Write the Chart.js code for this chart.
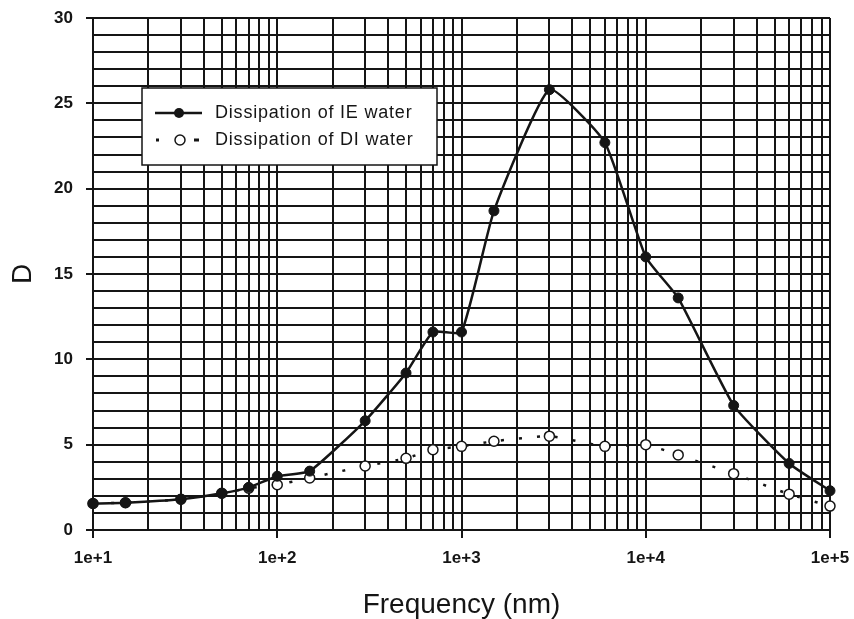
<!DOCTYPE html>
<html>
<head>
<meta charset="utf-8">
<script src="https://cdn.jsdelivr.net/npm/chart.js@4"></script>
<style>
  html, body { margin: 0; padding: 0; background: #fff; }
  #chart-container { width: 854px; height: 619px; position: relative; }
</style>
</head>
<body>
<div id="chart-container"><canvas id="demoChart"></canvas></div>
<script>
var frequencies = [10, 15, 30, 50, 70, 100, 150, 300, 500, 700, 1000, 1500, 3000, 6000, 10000, 15000, 30000, 60000, 100000];
var ieWater = [1.55, 1.6, 1.8, 2.15, 2.5, 3.15, 3.45, 6.4, 9.2, 11.6, 11.6, 18.7, 25.8, 22.7, 16.0, 13.6, 7.3, 3.9, 2.3];
var diWater = [1.55, 1.6, 1.8, 2.15, 2.45, 2.65, 3.05, 3.75, 4.2, 4.7, 4.9, 5.2, 5.5, 4.9, 5.0, 4.4, 3.3, 2.1, 1.4];
var seriesNames = ['Dissipation of IE water', 'Dissipation of DI water'];
var xTickLabels = { 10: '1e+1', 100: '1e+2', 1000: '1e+3', 10000: '1e+4', 100000: '1e+5' };
var yTickLabels = { 0: '0', 5: '5', 10: '10', 15: '15', 20: '20', 25: '25', 30: '30' };

var ink = '#151515';
var fontFamily = '"Liberation Sans", Arial, sans-serif';

function toPoints(ys) {
  var pts = [];
  for (var i = 0; i < frequencies.length; i++) {
    pts.push({ x: frequencies[i], y: ys[i] });
  }
  return pts;
}

// legend drawn as a framed box inside the plot, like the original
var boxLegend = {
  id: 'boxLegend',
  afterDraw: function(chart) {
    var ctx = chart.ctx;
    var a = chart.chartArea;
    var x = a.left + 49, y = a.top + 70, w = 295, h = 77;
    ctx.save();
    ctx.fillStyle = '#fff';
    ctx.fillRect(x, y, w, h);
    ctx.strokeStyle = ink;
    ctx.lineWidth = 1.5;
    ctx.strokeRect(x, y, w, h);

    // IE row
    var r1 = y + 25;
    ctx.lineWidth = 2.5;
    ctx.beginPath();
    ctx.moveTo(x + 13, r1);
    ctx.lineTo(x + 60, r1);
    ctx.stroke();
    ctx.fillStyle = ink;
    ctx.beginPath();
    ctx.arc(x + 37, r1, 5, 0, Math.PI * 2);
    ctx.fill();

    // DI row
    var r2 = y + 52;
    ctx.fillRect(x + 14, r2 - 1.5, 3, 3);
    ctx.fillRect(x + 52, r2 - 1.5, 5, 3);
    ctx.fillStyle = '#fff';
    ctx.lineWidth = 1.5;
    ctx.beginPath();
    ctx.arc(x + 38, r2, 5, 0, Math.PI * 2);
    ctx.fill();
    ctx.stroke();

    ctx.fillStyle = ink;
    ctx.font = '18px ' + fontFamily;
    if ('letterSpacing' in ctx) ctx.letterSpacing = '0.8px';
    ctx.textBaseline = 'middle';
    ctx.fillText(seriesNames[0], x + 73, r1);
    ctx.fillText(seriesNames[1], x + 73, r2);
    ctx.restore();
  }
};

var ctx = document.getElementById('demoChart').getContext('2d');
var chart = new Chart(ctx, {
  type: 'line',
  data: {
    datasets: [{
      label: seriesNames[0],
      data: toPoints(ieWater),
      borderColor: ink,
      backgroundColor: ink,
      borderWidth: 2.5,
      pointRadius: 5,
      pointBackgroundColor: ink,
      pointBorderColor: ink,
      pointBorderWidth: 1,
      tension: 0.15,
      clip: false
    }, {
      label: seriesNames[1],
      data: toPoints(diWater),
      borderColor: ink,
      borderWidth: 2.5,
      borderDash: [3, 15],
      pointRadius: 5,
      pointBackgroundColor: '#fff',
      pointBorderColor: ink,
      pointBorderWidth: 1.5,
      tension: 0.15,
      clip: false
    }]
  },
  options: {
    responsive: true,
    maintainAspectRatio: false,
    animation: false,
    layout: { padding: { top: 18, right: 24, left: 0, bottom: 0 } },
    plugins: {
      legend: { display: false },
      tooltip: { enabled: false }
    },
    scales: {
      x: {
        type: 'logarithmic',
        min: 10,
        max: 100000,
        afterBuildTicks: function(scale) {
          var t = [];
          for (var e = 1; e <= 4; e++) {
            for (var m = 1; m <= 9; m++) t.push({ value: m * Math.pow(10, e) });
          }
          t.push({ value: 100000 });
          scale.ticks = t;
        },
        afterFit: function(scale) {
          scale.height = 89;
          scale.paddingRight = 0;
        },
        border: { color: ink, width: 2 },
        grid: {
          color: ink,
          lineWidth: 2,
          tickLength: 8,
          tickColor: function(c) { return xTickLabels[c.tick && c.tick.value] ? ink : 'rgba(0,0,0,0)'; }
        },
        ticks: {
          autoSkip: false,
          maxRotation: 0,
          padding: 10,
          color: ink,
          font: { family: fontFamily, size: 17, weight: 'bold' },
          callback: function(v) { return xTickLabels[v] || ''; }
        },
        title: {
          display: true,
          text: 'Frequency (nm)',
          color: ink,
          padding: { top: 0, bottom: 0 },
          font: { family: fontFamily, size: 28, lineHeight: 1 }
        }
      },
      y: {
        min: 0,
        max: 30,
        afterFit: function(scale) {
          scale.width = 93;
          scale.paddingTop = 0;
          scale.paddingBottom = 0;
        },
        border: { color: ink, width: 2 },
        grid: {
          color: ink,
          lineWidth: 2,
          tickLength: 7,
          tickColor: function(c) { return yTickLabels[c.tick && c.tick.value] ? ink : 'rgba(0,0,0,0)'; }
        },
        ticks: {
          stepSize: 1,
          autoSkip: false,
          padding: 13,
          color: ink,
          font: { family: fontFamily, size: 17, weight: 'bold' },
          callback: function(v) { return yTickLabels[v] || ''; }
        },
        title: {
          display: true,
          text: 'D',
          color: ink,
          padding: { top: 9, bottom: 0 },
          font: { family: fontFamily, size: 28, lineHeight: 1 }
        }
      }
    }
  },
  plugins: [boxLegend]
});
</script>
</body>
</html>
